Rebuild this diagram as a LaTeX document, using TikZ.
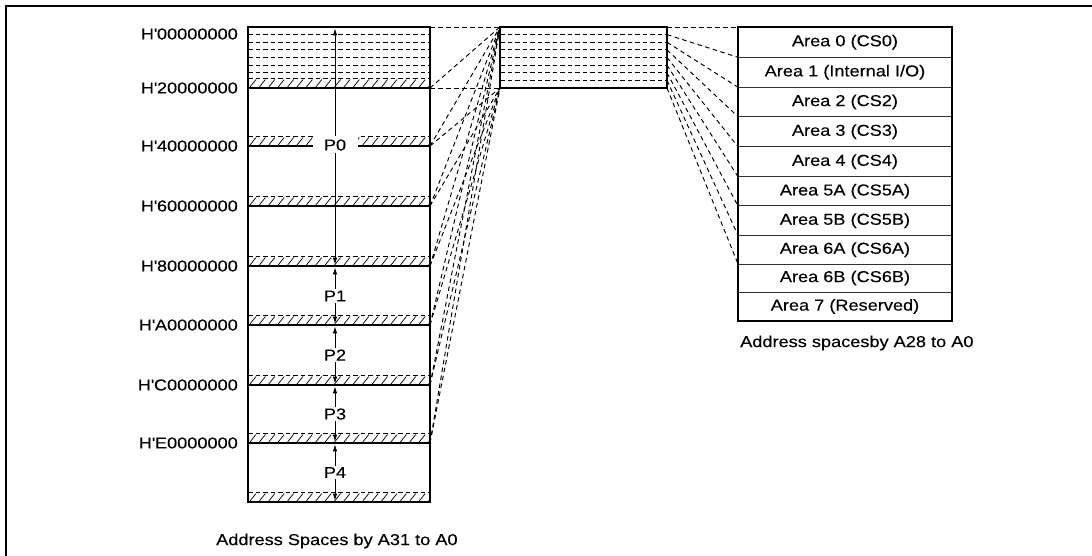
\documentclass[tikz,border=0pt]{standalone}
\usepackage{fontspec}
\setmainfont{Liberation Sans}[FakeStretch=1.15,FakeBold=0.2]
\usetikzlibrary{arrows.meta}
\newcommand\apos{\textquotesingle}
\begin{document}
\begin{tikzpicture}[x=1pt,y=-1pt,
  thickln/.style={line width=2.8pt},
  dsh/.style={line width=0.95pt, dash pattern=on 4.5pt off 3pt},
  conn/.style={line width=0.95pt, dash pattern=on 4.5pt off 3.5pt},
  hatchln/.style={line width=0.75pt},
  rowln/.style={line width=1pt, black!80},
  lbl/.style={font=\fontsize{15.8}{18}\selectfont, inner sep=0pt},
  parr/.style={line width=1pt, shorten <=1.3pt, shorten >=1.3pt,
    {Latex[length=7pt,width=4.5pt]}-{Latex[length=7pt,width=4.5pt]}},
  plab/.style={font=\fontsize{15.8}{18}\selectfont, fill=white, inner sep=1.5pt},
]
\useasboundingbox (0,0) rectangle (1092,556);
% frame
\draw[line width=2pt] (6,556) -- (6,6) -- (1092,6);

% ---------- left box ----------
\foreach \k in {1,...,6}
  \draw[dsh] ({248},{27+7.625*\k}) -- ({430},{27+7.625*\k});
\foreach \b in {88,146,206,266,325,385,443,502} {
  \draw[dsh] (248,\b-9.5) -- (430,\b-9.5);
  \begin{scope}
    \clip (248,\b-9.5) rectangle (430,\b);
    \foreach \x in {250,259.4,...,432}
      \draw[hatchln] (\x,\b-1) -- (\x+6,\b-8.5);
  \end{scope}
}
\foreach \b in {88,146,206,266,325,385,443}
  \draw[thickln] (248,\b) -- (430,\b);
\draw[thickln] (248,27) rectangle (430,502);

% arrows
\draw[parr] (335,27) -- (335,266);
\draw[parr] (335,266) -- (335,325);
\draw[parr] (335,325) -- (335,385);
\draw[parr] (335,385) -- (335,443);
\draw[parr] (335,443) -- (335,502);
\node[plab, minimum width=45pt, minimum height=17pt] (p0) at (335,145) {P0};
\node[plab] (p1) at (335,296) {P1};
\node[plab] (p2) at (335,355) {P2};
\node[plab] (p3) at (335,414) {P3};
\node[plab] (p4) at (335,472.5) {P4};

% address labels
\node[lbl, anchor=east] (a0) at (238,34) {H\apos00000000};
\node[lbl, anchor=east] (a1) at (238,88) {H\apos20000000};
\node[lbl, anchor=east] (a2) at (238,146) {H\apos40000000};
\node[lbl, anchor=east] (a3) at (238,206) {H\apos60000000};
\node[lbl, anchor=east] (a4) at (238,266) {H\apos80000000};
\node[lbl, anchor=east] (a5) at (238,325) {H\apos A0000000};
\node[lbl, anchor=east] (a6) at (238,385) {H\apos C0000000};
\node[lbl, anchor=east] (a7) at (238,443) {H\apos E0000000};
\node[lbl, anchor=west] (capL) at (216,541) {Address Spaces by A31 to A0};

% ---------- middle box ----------
\foreach \k in {1,...,7}
  \draw[dsh] ({500},{27+7.625*\k}) -- ({667},{27+7.625*\k});
\draw[thickln] (500,27) rectangle (667,88);

% ---------- right box ----------
\foreach \y in {57.3,87.3,116.7,146.7,176.7,206,235.3,264,292}
  \draw[rowln] (738,\y) -- (952,\y);
\draw[thickln] (738,27) rectangle (952,321);
\foreach \ya/\yb/\t [count=\i] in {27/57.3/{Area 0 (CS0)}, 57.3/87.3/{Area 1 (Internal I/O)},
   87.3/116.7/{Area 2 (CS2)}, 116.7/146.7/{Area 3 (CS3)}, 146.7/176.7/{Area 4 (CS4)},
   176.7/206/{Area 5A (CS5A)}, 206/235.3/{Area 5B (CS5B)}, 235.3/264/{Area 6A (CS6A)},
   264/292/{Area 6B (CS6B)}, 292/321/{Area 7 (Reserved)}}
  \node[lbl] (ar\i) at (845,{(\ya+\yb)/2}) {\t};
\node[lbl, anchor=west] (capR) at (740,343) {Address spacesby A28 to A0};

% ---------- connectors ----------
\coordinate (mTL) at (500,27);
\coordinate (mBL) at (500,88);
\foreach \y [count=\i from 0] in {27,88,146,206,266,325,385,443}
  \coordinate (b\i) at (430,\y);
\draw[conn] (b0) -- (mTL);
\draw[conn] (b1) -- (mBL);
\foreach \i in {1,...,7} \draw[conn] (b\i) -- (mTL);
\foreach \i in {2,...,7} \draw[conn] (b\i) -- (mBL);

\foreach \y [count=\i from 0] in {27,57.3,87.3,116.7,146.7,176.7,206,235.3,264} {
  \coordinate (mR\i) at ({667},{27+7.625*\i});
  \coordinate (rL\i) at (738,\y);
  \draw[conn] (mR\i) -- (rL\i);
}
\end{tikzpicture}
\end{document}
